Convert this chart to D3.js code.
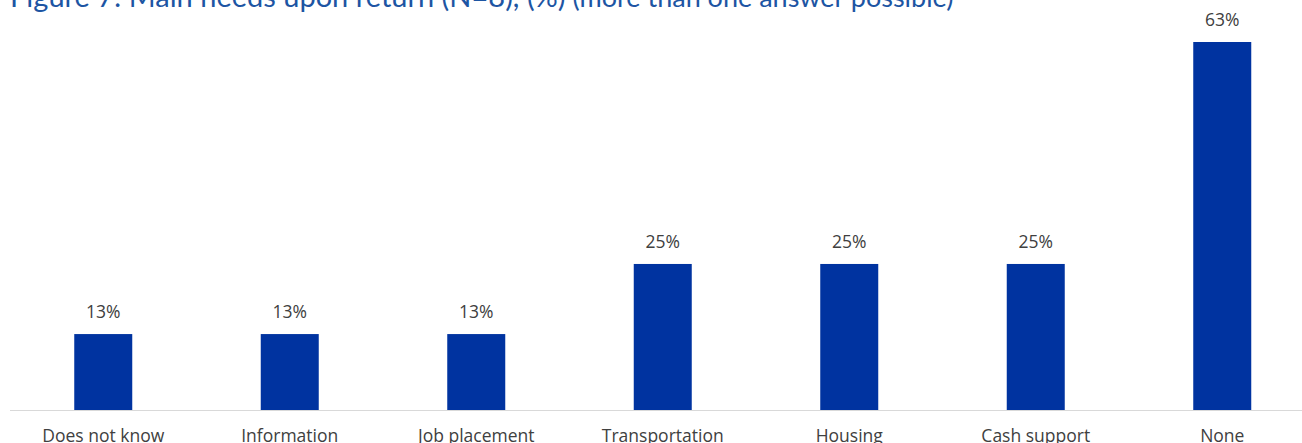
<!DOCTYPE html>
<html>
<head>
<meta charset="utf-8">
<script src="https://cdn.jsdelivr.net/npm/d3@7"></script>
<style>
  html, body { margin: 0; padding: 0; background: #ffffff; }
  svg { display: block; }
</style>
</head>
<body>
<svg id="chart" width="1302" height="443"></svg>
<script>
// Main needs upon return, share of respondents (%)
const categories = ["Does not know", "Information", "Job placement", "Transportation", "Housing", "Cash support", "None"];
const values = [13, 13, 13, 25, 25, 25, 63];
const titleMain = "Figure 7: Main needs upon return (N=8), (%)";
const titleNote = "(more than one answer possible)";

const svg = d3.select("#chart");
const W = 1302, H = 443;

const x = d3.scaleBand()
  .domain(categories)
  .range([10, 1315.5])
  .paddingInner(0.689)
  .paddingOuter(0.3445);

const y = d3.scaleLinear()
  .domain([0, 63])
  .range([410, 42]);

// Title
const title = svg.append("text")
  .attr("x", 10)
  .attr("y", 7)
  .attr("fill", "#1d55a3")
  .style("font-family", "Lato, 'Open Sans', sans-serif");
title.append("tspan").text(titleMain).style("font-size", "29px");
title.append("tspan").text(" " + titleNote).style("font-size", "27px");

// Bars
svg.append("g").selectAll("rect")
  .data(values)
  .join("rect")
  .attr("x", (d, i) => x(categories[i]))
  .attr("y", d => y(d))
  .attr("width", x.bandwidth())
  .attr("height", d => y(0) - y(d))
  .attr("fill", "#0033a0");

// Value labels
svg.append("g").selectAll("text")
  .data(values)
  .join("text")
  .attr("x", (d, i) => x(categories[i]) + x.bandwidth() / 2)
  .attr("y", d => y(d) - 16)
  .attr("text-anchor", "middle")
  .attr("fill", "#404040")
  .style("font-family", "'Open Sans', sans-serif")
  .style("font-size", "17.5px")
  .text(d => d + "%");

// Category axis
const axis = svg.append("g")
  .attr("transform", `translate(0,${y(0)})`)
  .call(d3.axisBottom(x).tickSize(0).tickPadding(0));
axis.select(".domain")
  .attr("d", `M10,0.5H${W}`)
  .attr("stroke", "#d9d9d9")
  .attr("stroke-width", 1);
axis.selectAll("text")
  .attr("fill", "#404040")
  .attr("y", 32)
  .attr("dy", null)
  .style("font-family", "'Open Sans', sans-serif")
  .style("font-size", "17.5px");
</script>
</body>
</html>
